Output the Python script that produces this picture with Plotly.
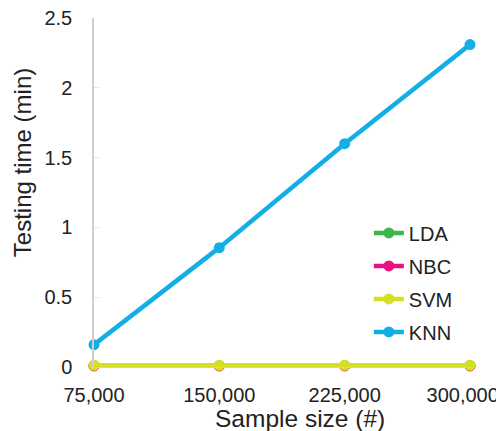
import plotly.graph_objects as go

sample_sizes = [75000, 150000, 225000, 300000]
tick_labels = ["75,000", "150,000", "225,000", "300,000\u2800"]
y_ticks = [0, 0.5, 1, 1.5, 2, 2.5]
y_tick_labels = ["0", "0.5", "1", "1.5", "2", "2.5"]
lda = [0.010, 0.010, 0.010, 0.010]
nbc = [0.008, 0.008, 0.008, 0.008]
svm = [0.012, 0.012, 0.012, 0.012]
knn = [0.16, 0.855, 1.60, 2.31]

series = [
    ("LDA", lda, "#3db54a"),
    ("NBC", nbc, "#e8117f"),
    ("SVM", svm, "#d5e021"),
    ("KNN", knn, "#14aee6"),
]

fig = go.Figure()
for name, vals, color in series:
    fig.add_trace(go.Scatter(
        x=sample_sizes, y=vals, name=name, mode="lines+markers",
        legendgroup=name,
        line=dict(color=color, width=4.5),
        marker=dict(color=color, size=11),
        cliponaxis=False,
    ))

font = "Liberation Sans, Arial, DejaVu Sans, sans-serif"
fig.update_layout(
    width=504, height=431,
    margin=dict(l=86, r=42, t=10, b=72, autoexpand=False),
    paper_bgcolor="white", plot_bgcolor="white",
    font=dict(family=font, color="#222222", size=20),
    showlegend=True,
    legend=dict(x=0.731, y=0.44, xanchor="left", yanchor="top",
                font=dict(size=20, color="#222222"),
                bgcolor="rgba(0,0,0,0)", itemwidth=30,
                tracegroupgap=4),
    xaxis=dict(
        range=[75000, 300000], tickvals=sample_sizes, ticktext=tick_labels,
        showgrid=False, zeroline=False, showline=True, linecolor="#d0d0d0",
        ticks="", tickfont=dict(size=20, color="#222222"),
        ticklabelstandoff=10, automargin=False, ticklabeloverflow="allow",
    ),
    yaxis=dict(
        range=[0, 2.5001], tickvals=y_ticks, ticktext=y_tick_labels,
        showgrid=False, zeroline=False, showline=True, linecolor="#cfcfcf",
        linewidth=1.5, ticks="inside", ticklen=5, tickcolor="#e6e6e6",
        tickfont=dict(size=20, color="#222222"), ticklabelstandoff=16,
        ticklabeloverflow="allow", automargin=False,
    ),
    annotations=[
        dict(text="Sample size (#)", xref="paper", yref="paper",
             x=0.548, y=-0.147, xanchor="center", yanchor="middle",
             showarrow=False, font=dict(size=24.5, color="#222222")),
        dict(text="Testing time (min)", xref="paper", yref="paper",
             x=-0.188, y=0.585, xanchor="center", yanchor="middle",
             textangle=-90, showarrow=False,
             font=dict(size=24, color="#222222")),
    ],
)

fig.write_html("out.html")
